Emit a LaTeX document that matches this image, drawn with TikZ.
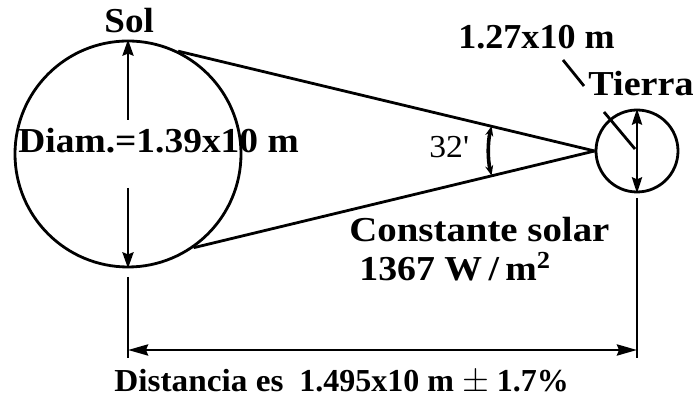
\documentclass[tikz,border=0pt]{standalone}
\usepackage{fontspec}
\setmainfont{Liberation Serif}
\usetikzlibrary{arrows.meta,calc}
\newcommand\wtxt[2][1.12]{\scalebox{#1}[1]{#2}}
\begin{document}
\begin{tikzpicture}[x=0.5pt,y=-0.5pt, line width=1.4pt,
  lbl/.style={font=\bfseries\fontsize{17.5}{20}\selectfont, inner sep=0pt, anchor=base west},
  lblsm/.style={font=\bfseries\fontsize{16}{18}\selectfont, inner sep=0pt, anchor=base west},
  anglbl/.style={font=\fontsize{16}{18}\selectfont, inner sep=0pt, anchor=base west},
  body/.style={circle, draw, inner sep=0pt},
  diamarrow/.style={-{Stealth[length=8pt,width=5.5pt,inset=1pt]}},
  eartharrow/.style={{Stealth[length=8pt,width=5pt,inset=1pt]}-{Stealth[length=8pt,width=5pt,inset=1pt]}},
  dimarrow/.style={{Stealth[length=10pt,width=5.5pt,inset=1pt]}-{Stealth[length=10pt,width=5.5pt,inset=1pt]}},
  angarrow/.style={{Stealth[length=5pt,width=4pt]}-{Stealth[length=5pt,width=4pt]}, line width=1.8pt}]
\fill[white] (0,0) rectangle (697,399);
\useasboundingbox (0,0) rectangle (697,399);
% bodies
\node[body, minimum size=113pt] (sun) at (128,154) {};
\node[body, minimum size=41pt] (earth) at (637,151) {};
% cone
\draw (sun.64) -- (earth.west);
\draw (sun.-55) -- (earth.west);
% angle
\draw[angarrow] ($(earth.west)+(193.6:106)$) arc[start angle=193.6, end angle=166.6, radius=106];
\node[anglbl] (ang) at (428,158) {\wtxt[1.05]{32\textquotesingle}};
% sun diameter
\coordinate (d1) at (128,120);
\coordinate (d2) at (128,188);
\draw[diamarrow] (d1) -- (sun.north);
\draw[diamarrow] (d2) -- (sun.south);
% earth diameter
\draw[eartharrow] (earth.north) -- (earth.south);
% leader for earth diameter
\coordinate (l1) at (563,60);
\coordinate (l2) at (584,86);
\coordinate (l3) at (604,112);
\coordinate (l4) at (635,149);
\draw (l1) -- (l2);
\draw (l3) -- (l4);
% distance dimension
\coordinate (e1) at (128,277);
\coordinate (e2) at (128,358);
\coordinate (e3) at (637,198);
\coordinate (e4) at (637,358);
\coordinate (dl) at (128,350);
\coordinate (dr) at (637,350);
\draw (e1) -- (e2);
\draw (e3) -- (e4);
\draw[dimarrow] (dl) -- (dr);
% labels
\node[lbl] (sol) at (103,33) {\wtxt[1.06]{Sol}};
\node[lbl] (diam) at (17,153) {\wtxt[1.07]{Diam.=1.39x10 m}};
\node[lbl] (edia) at (457,49) {\wtxt[1.03]{1.27x10 m}};
\node[lbl] (tierra) at (587,96) {\wtxt[1.09]{Tierra}};
\node[lbl] (cons) at (348,242) {\wtxt[1.11]{Constante solar}};
\node[lbl] (val) at (358,281) {\wtxt[1.08]{1367 W\,/\,m\textsuperscript{2}}};
\node[lblsm] (dist) at (113,392) {\wtxt[1.04]{Distancia es}};
\node[lblsm] (distv) at (298,392) {\wtxt[1.0]{1.495x10 m {\mdseries$\pm$} 1.7\%}};
\end{tikzpicture}
\end{document}
